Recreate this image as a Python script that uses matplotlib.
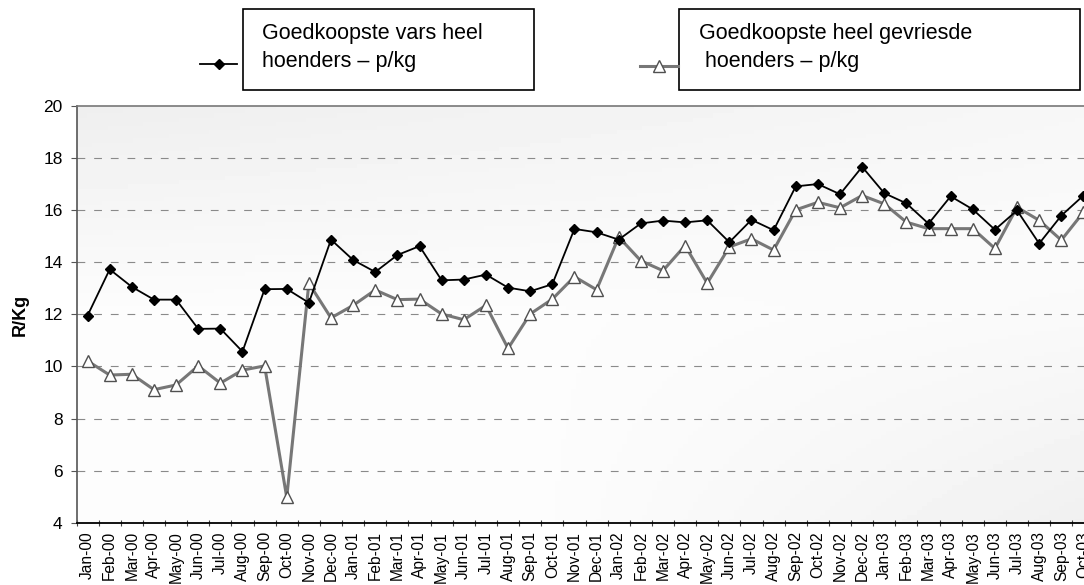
import numpy as np
import matplotlib.pyplot as plt
from matplotlib.lines import Line2D
from matplotlib.patches import Rectangle

plt.rcParams['font.family'] = ['Liberation Sans', 'DejaVu Sans']

months = ["Jan-00", "Feb-00", "Mar-00", "Apr-00", "May-00", "Jun-00", "Jul-00", "Aug-00",
          "Sep-00", "Oct-00", "Nov-00", "Dec-00",
          "Jan-01", "Feb-01", "Mar-01", "Apr-01", "May-01", "Jun-01", "Jul-01", "Aug-01",
          "Sep-01", "Oct-01", "Nov-01", "Dec-01",
          "Jan-02", "Feb-02", "Mar-02", "Apr-02", "May-02", "Jun-02", "Jul-02", "Aug-02",
          "Sep-02", "Oct-02", "Nov-02", "Dec-02",
          "Jan-03", "Feb-03", "Mar-03", "Apr-03", "May-03", "Jun-03", "Jul-03", "Aug-03",
          "Sep-03", "Oct-03"]

# goedkoopste vars heel hoenders (R/kg)
vars_heel = [11.95, 13.72, 13.05, 12.56, 12.56, 11.44, 11.45, 10.57, 12.96, 12.97, 12.44, 14.86,
             14.08, 13.62, 14.27, 14.61, 13.30, 13.33, 13.52, 13.02, 12.88, 13.15, 15.27, 15.14,
             14.86, 15.48, 15.59, 15.52, 15.60, 14.76, 15.62, 15.22, 16.90, 16.99, 16.60, 17.65,
             16.64, 16.25, 15.47, 16.52, 16.02, 15.24, 15.98, 14.71, 15.78, 16.55]

# goedkoopste heel gevriesde hoenders (R/kg)
gevries = [10.21, 9.67, 9.70, 9.11, 9.29, 10.02, 9.36, 9.86, 10.02, 4.98, 13.19, 11.86,
           12.34, 12.93, 12.56, 12.58, 12.01, 11.79, 12.34, 10.69, 12.01, 12.58, 13.44, 12.94,
           14.96, 14.05, 13.67, 14.63, 13.19, 14.58, 14.89, 14.46, 16.00, 16.29, 16.08, 16.55,
           16.23, 15.53, 15.28, 15.28, 15.28, 14.52, 16.10, 15.60, 14.84, 15.91]

y_ticks = [4, 6, 8, 10, 12, 14, 16, 18, 20]

W, H = 1084, 585
fig = plt.figure(figsize=(W / 100, H / 100), dpi=100)

# plot area runs a little past the right edge, like the cropped scan
ax = fig.add_axes([76.5 / W, (H - 523) / H, 1018 / W, (523 - 105.5) / H])

x = np.arange(len(months))

# scanned grey shading behind the plot
gx, gy = np.meshgrid(np.linspace(0, 1, 200), np.linspace(0, 1, 100))
shade = (0.99
         - 0.055 * np.clip((gy - 0.5) / 0.5, 0, 1) * (1 - 0.6 * gx)
         - 0.05 * np.clip((gx - 0.45) / 0.55, 0, 1) * np.clip((0.65 - gy) / 0.65, 0, 1))
ax.imshow(shade, extent=[-0.5, len(months) - 0.5, 4, 20], origin='lower', aspect='auto',
          cmap='gray', vmin=0, vmax=1, zorder=0)

for v in y_ticks[1:-1]:
    ax.axhline(v, color='#8a8a8a', lw=0.8, ls=(0, (7, 8)), zorder=1)

ax.plot(x, gevries, color='#777777', lw=2.2, marker='^', ms=8,
        markerfacecolor='white', markeredgecolor='#505050', markeredgewidth=1.0, zorder=3)
ax.plot(x, vars_heel, color='black', lw=1.3, marker='D', ms=4.8, zorder=4)

ax.set_xlim(-0.5, len(months) - 0.5)
ax.set_ylim(4, 20)

ax.set_xticks(x)
ax.set_xticklabels(months, rotation=90, fontsize=11.2)
ax.set_xticks(np.arange(len(months) + 1) - 0.5, minor=True)
ax.tick_params(axis='x', which='major', length=0, pad=6)
ax.tick_params(axis='x', which='minor', direction='inout', length=5, width=0.8, color='#444444')

ax.set_yticks(y_ticks)
ax.set_yticklabels([str(v) for v in y_ticks], fontsize=12.5)
ax.tick_params(axis='y', direction='out', length=4, width=0.8, pad=6, color='#555555')

ax.spines['right'].set_visible(False)
ax.spines['top'].set_color('#777777')
ax.spines['top'].set_linewidth(1.2)
ax.spines['left'].set_color('#555555')
ax.spines['left'].set_linewidth(1.2)
ax.spines['bottom'].set_color('black')
ax.spines['bottom'].set_linewidth(1.3)

fig.text(20.5 / W, 1 - 315 / H, "R/Kg", rotation=90, fontsize=13, fontweight='bold',
         ha='center', va='center')

# legend boxes drawn by hand at the top
def px(xp, yp):
    return xp / W, 1 - yp / H

for (x0, x1) in [(243, 534), (679, 1080)]:
    fig.patches.append(Rectangle(px(x0, 89.5), (x1 - x0) / W, 80 / H, transform=fig.transFigure,
                                 fill=False, edgecolor='black', lw=1.2))

fig.text(*px(262.5, 33), "Goedkoopste vars heel", fontsize=15.5, va='center')
fig.text(*px(262.5, 62), "hoenders \u2013 p/kg", fontsize=15.5, va='center')
fig.text(*px(699, 33), "Goedkoopste heel gevriesde", fontsize=15.5, va='center')
fig.text(*px(699, 62), " hoenders \u2013 p/kg", fontsize=15.5, va='center')

fig.lines.append(Line2D([200 / W, 237 / W], [1 - 64 / H, 1 - 64 / H], transform=fig.transFigure,
                        color='black', lw=1.3))
fig.lines.append(Line2D([219 / W], [1 - 64 / H], transform=fig.transFigure, color='black',
                        marker='D', ms=4.8))
fig.lines.append(Line2D([640 / W, 678 / W], [1 - 66 / H, 1 - 66 / H], transform=fig.transFigure,
                        color='#777777', lw=2.2))
fig.lines.append(Line2D([659 / W], [1 - 66 / H], transform=fig.transFigure, color='#777777',
                        marker='^', ms=8, markerfacecolor='white', markeredgecolor='#505050'))

fig.savefig("out.png", dpi=100)
